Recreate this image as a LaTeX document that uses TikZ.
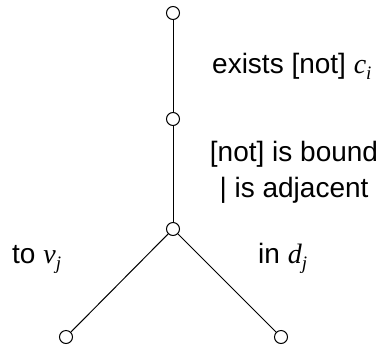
\documentclass[tikz,border=0pt]{standalone}
\usepackage{fontspec}
\setmainfont{Liberation Sans}
\newfontfamily\timesit{Liberation Serif Italic}
\usetikzlibrary{positioning}
\newcommand{\ivar}[2]{{\timesit #1}\raisebox{-0.22em}{\fontsize{19}{19}\selectfont\timesit #2}}

\begin{document}
\begin{tikzpicture}[x=1pt, y=-1pt,
  vertex/.style={circle, draw, line width=1pt, fill=white, inner sep=0pt, minimum size=13pt},
  edge/.style={line width=1pt},
  tag/.style={font=\fontsize{28}{31}\selectfont, inner sep=0pt},
]
\useasboundingbox (0,0) rectangle (379,351);

% Vertices
\node[vertex] (top) at (173,13) {};
\node[vertex] (mid) at (173,119) {};
\node[vertex] (hub) at (173,229) {};
\node[vertex] (leftleaf) at (66,337) {};
\node[vertex] (rightleaf) at (281,337) {};

% Edges
\draw[edge] (top) -- (mid);
\draw[edge] (mid) -- (hub);
\draw[edge] (hub) -- (leftleaf);
\draw[edge] (hub) -- (rightleaf);

% Labels
\node[tag, anchor=base west] (exists) at (212,73) {exists [not] \ivar{c}{i}};
\node[tag, anchor=base, align=center] (bound) at (294,197) {[not] is bound\\[5pt]| is adjacent};
\node[tag, anchor=base west] (tov) at (12,263) {to \ivar{v}{j}};
\node[tag, anchor=base west] (ind) at (258,263) {in \ivar{d}{j}};

\end{tikzpicture}
\end{document}
